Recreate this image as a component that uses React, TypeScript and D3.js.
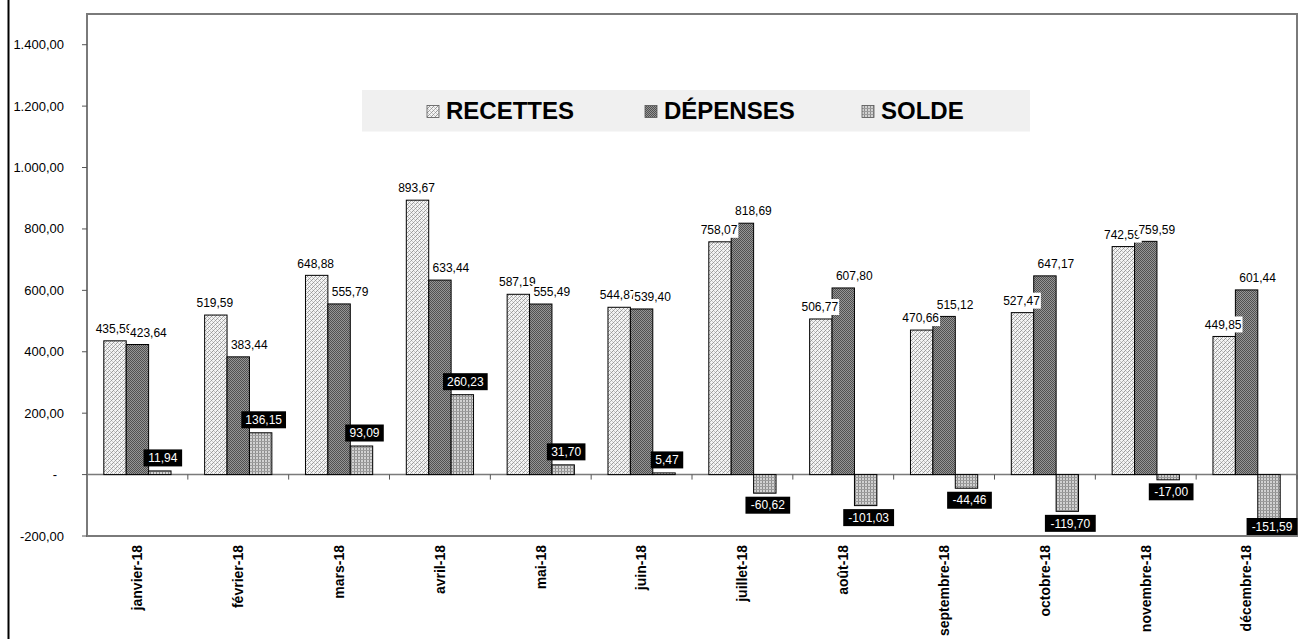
import React from "react";
import * as d3 from "d3";

const months = [
  "janvier-18", "février-18", "mars-18", "avril-18", "mai-18", "juin-18",
  "juillet-18", "août-18", "septembre-18", "octobre-18", "novembre-18", "décembre-18",
];
const recettes = [435.59, 519.59, 648.88, 893.67, 587.19, 544.87, 758.07, 506.77, 470.66, 527.47, 742.59, 449.85];
const depenses = [423.64, 383.44, 555.79, 633.44, 555.49, 539.4, 818.69, 607.8, 515.12, 647.17, 759.59, 601.44];
const solde = [11.94, 136.15, 93.09, 260.23, 31.7, 5.47, -60.62, -101.03, -44.46, -119.7, -17.0, -151.59];
const seriesNames = ["RECETTES", "DÉPENSES", "SOLDE"];
const yTicks = [-200, 0, 200, 400, 600, 800, 1000, 1200, 1400];

const W = 1306;
const H = 639;
const FONT = "Arial, 'Liberation Sans', Helvetica, sans-serif";

const loc = d3.formatLocale({ decimal: ",", thousands: ".", grouping: [3], currency: ["", ""], minus: "-" });
const fmt = loc.format(",.2f");

const plot = { left: 87, right: 1297, top: 14, bottom: 536 };

export default function App() {
  const x0 = d3.scaleBand<string>().domain(months).range([plot.left, plot.right]).paddingInner(0).paddingOuter(0);
  const x1 = d3
    .scaleBand<string>()
    .domain(seriesNames)
    .range([0, x0.bandwidth()])
    .paddingInner(0)
    .paddingOuter(0.75);
  const y = d3.scaleLinear().domain([-200, 1500]).range([plot.bottom, plot.top]);
  const y0 = y(0);
  const bw = x1.bandwidth();

  const seriesData = [recettes, depenses, solde];
  const fills = ["url(#patRec)", "url(#patDep)", "url(#patSol)"];
  const labelDx = [-1, 11];

  const measure = (s: string, size: number) => s.length * size * 0.51;

  return (
    <svg width={W} height={H} style={{ position: "absolute", left: 0, top: 0, background: "#fff" }} fontFamily={FONT}>
      <defs>
        <pattern id="patRec" width="4" height="4" patternUnits="userSpaceOnUse">
          <rect width="4" height="4" fill="#f4f4f4" />
          <rect x="0" y="3" width="1" height="1" fill="#9a9a9a" />
          <rect x="1" y="2" width="1" height="1" fill="#9a9a9a" />
          <rect x="2" y="1" width="1" height="1" fill="#b0b0b0" />
          <rect x="3" y="0" width="1" height="1" fill="#9a9a9a" />
          <rect x="2" y="3" width="1" height="1" fill="#c8c8c8" />
          <rect x="0" y="1" width="1" height="1" fill="#c8c8c8" />
        </pattern>
        <pattern id="patDep" width="2" height="2" patternUnits="userSpaceOnUse">
          <rect width="2" height="2" fill="#959595" />
          <rect width="1" height="1" fill="#505050" />
          <rect x="1" y="1" width="1" height="1" fill="#505050" />
        </pattern>
        <pattern id="patSol" width="3" height="3" patternUnits="userSpaceOnUse">
          <rect width="3" height="3" fill="#d2d2d2" />
          <rect width="1" height="3" fill="#8c8c8c" />
          <rect width="3" height="1" fill="#9c9c9c" />
        </pattern>
      </defs>

      {/* outer frame line */}
      <line x1={8.5} x2={8.5} y1={0} y2={H} stroke="#000" strokeWidth={2} />

      {/* plot area */}
      <rect
        x={plot.left}
        y={plot.top}
        width={plot.right - plot.left}
        height={plot.bottom - plot.top}
        fill="#fff"
        stroke="#7a7a7a"
        strokeWidth={2}
      />

      {/* y axis ticks & labels */}
      {yTicks.map((t) => (
        <g key={t}>
          <line x1={plot.left - 5} x2={plot.left} y1={y(t)} y2={y(t)} stroke="#555" strokeWidth={1} />
          <text
            x={t === 0 ? 57 : 64}
            y={y(t)}
            dy="0.35em"
            textAnchor="end"
            fontSize={13}
            fill="#000"
          >
            {t === 0 ? "-" : fmt(t)}
          </text>
        </g>
      ))}

      {/* zero line */}
      <line x1={plot.left} x2={plot.right} y1={y0} y2={y0} stroke="#7a7a7a" strokeWidth={1.5} />
      {months.map((m) => (
        <line
          key={"ct" + m}
          x1={x0(m)! + x0.bandwidth()}
          x2={x0(m)! + x0.bandwidth()}
          y1={y0}
          y2={y0 + 5}
          stroke="#555"
          strokeWidth={1}
        />
      ))}

      {/* bars */}
      {seriesData.map((vals, si) =>
        vals.map((v, i) => {
          const bx = x0(months[i])! + x1(seriesNames[si])!;
          const top = Math.min(y(v), y0);
          const h = Math.abs(y(v) - y0);
          return (
            <rect
              key={`b${si}-${i}`}
              x={bx}
              y={top}
              width={bw}
              height={h}
              fill={fills[si]}
              stroke="#000"
              strokeWidth={1}
            />
          );
        })
      )}

      {/* labels for recettes & dépenses */}
      {[0, 1].map((si) =>
        seriesData[si].map((v, i) => {
          const cx = x0(months[i])! + x1(seriesNames[si])! + bw / 2 + labelDx[si];
          const cy = y(v) - 12;
          const s = fmt(v);
          const tw = measure(s, 12);
          return (
            <g key={`l${si}-${i}`}>
              <rect x={cx - tw / 2 - 1} y={cy - 8} width={tw + 2} height={16} fill="#fff" />
              <text x={cx} y={cy} dy="0.35em" textAnchor="middle" fontSize={12} fill="#000">
                {s}
              </text>
            </g>
          );
        })
      )}

      {/* labels for solde */}
      {solde.map((v, i) => {
        const cx = x0(months[i])! + x1(seriesNames[2])! + bw / 2 + 3;
        const cy = v >= 0 ? y(v) - 13 : Math.min(y(v) + 12, plot.bottom - 9.5);
        const s = fmt(v);
        const tw = measure(s, 12);
        return (
          <g key={`ls-${i}`}>
            <rect x={cx - tw / 2 - 4} y={cy - 8.5} width={tw + 8} height={17} fill="#000" />
            <text x={cx} y={cy} dy="0.35em" textAnchor="middle" fontSize={12} fill="#fff">
              {s}
            </text>
          </g>
        );
      })}

      {/* x axis labels */}
      {months.map((m) => {
        const cx = x0(m)! + x0.bandwidth() / 2;
        return (
          <text
            key={"xl" + m}
            transform={`translate(${cx},545) rotate(-90)`}
            dy="0.35em"
            textAnchor="end"
            fontSize={14}
            fontWeight="bold"
            fill="#000"
          >
            {m}
          </text>
        );
      })}

      {/* legend */}
      <rect x={362} y={90} width={668} height={41.5} fill="#f0f0f0" />
      {seriesNames.map((n, si) => {
        const lx = [427, 645, 862][si];
        return (
          <g key={"lg" + n}>
            <rect x={lx} y={105.5} width={12} height={12} fill={fills[si]} stroke="#555" strokeWidth={0.8} />
            <text x={lx + 19} y={119.3} fontSize={24} fontWeight="bold" fill="#000">
              {n}
            </text>
          </g>
        );
      })}
    </svg>
  );
}
